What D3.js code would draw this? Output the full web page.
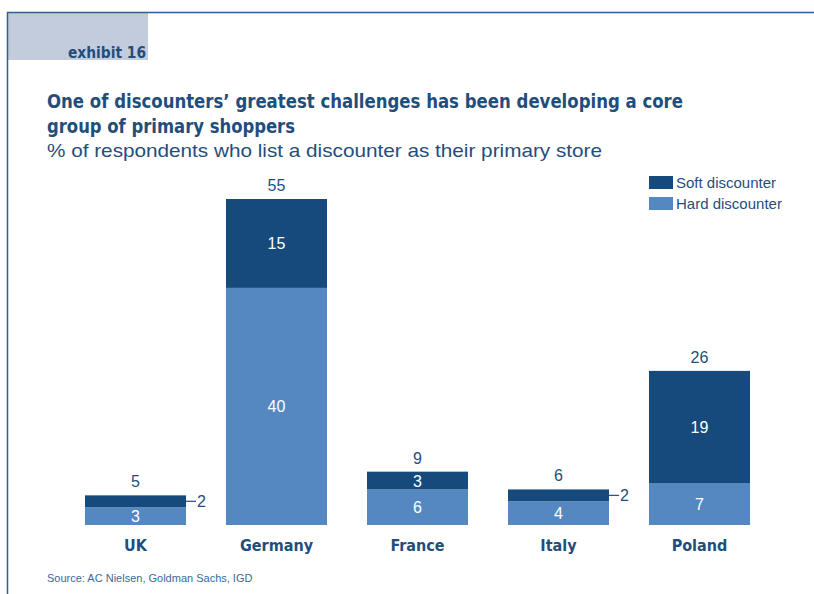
<!DOCTYPE html>
<html><head><meta charset="utf-8">
<script src="https://cdn.jsdelivr.net/npm/d3@7"></script>
<style>body{margin:0;background:#fff}svg{display:block}</style>
</head><body>
<svg id="c" width="814" height="594"></svg>
<script>
const categories = ["UK", "Germany", "France", "Italy", "Poland"];
const hardValues = [3, 40, 6, 4, 7];
const softValues = [2, 15, 3, 2, 19];
const totals = [5, 55, 9, 6, 26];
const seriesNames = ["Soft discounter", "Hard discounter"];

const dark = "#174a7c", light = "#5588c0", txt = "#1f4e7d";
const svg = d3.select("#c");

// frame
svg.append("rect").attr("x", 8).attr("y", 13).attr("width", 140).attr("height", 47).attr("fill", "#c3ccdc");
svg.append("line").attr("x1", 7).attr("x2", 814).attr("y1", 12.5).attr("y2", 12.5).attr("stroke", "#2f5f90").attr("stroke-width", 1.5);
svg.append("line").attr("x1", 7.5).attr("x2", 7.5).attr("y1", 12).attr("y2", 594).attr("stroke", "#2f5f90").attr("stroke-width", 1.5);

const tfont = "DejaVu Sans Condensed";
svg.append("text").attr("x", 68).attr("y", 58).attr("fill", txt)
  .attr("font-family", tfont).attr("font-weight", "bold").attr("font-size", 15)
  .attr("textLength", 78).attr("lengthAdjust", "spacingAndGlyphs").text("exhibit 16");

svg.append("text").attr("x", 47).attr("y", 108).attr("fill", txt).attr("font-family", tfont).attr("font-weight", "bold").attr("font-size", 19)
  .attr("textLength", 636).attr("lengthAdjust", "spacingAndGlyphs")
  .text("One of discounters\u2019 greatest challenges has been developing a core");
svg.append("text").attr("x", 47).attr("y", 133).attr("fill", txt).attr("font-family", tfont).attr("font-weight", "bold").attr("font-size", 19)
  .attr("textLength", 248).attr("lengthAdjust", "spacingAndGlyphs")
  .text("group of primary shoppers");
svg.append("text").attr("x", 47).attr("y", 157).attr("fill", txt).attr("font-family", "Liberation Sans").attr("font-size", 18.5)
  .attr("textLength", 555).attr("lengthAdjust", "spacingAndGlyphs")
  .text("% of respondents who list a discounter as their primary store");

const xb = d3.scaleBand().domain(categories).range([65, 770]).paddingInner(40/141).paddingOuter(20/141);
const y = d3.scaleLinear().domain([0, 55]).range([525, 199]);

const g = svg.append("g");
categories.forEach((c, i) => {
  const x0 = xb(c), w = xb.bandwidth();
  const h = hardValues[i], s = softValues[i];
  g.append("rect").attr("x", x0).attr("width", w).attr("y", y(h)).attr("height", y(0) - y(h)).attr("fill", light);
  g.append("rect").attr("x", x0).attr("width", w).attr("y", y(h + s)).attr("height", y(h) - y(h + s)).attr("fill", dark);
  const cx = x0 + w / 2;
  g.append("text").attr("x", cx).attr("y", (y(0) + y(h)) / 2 + 6).attr("text-anchor", "middle").attr("fill", "#fff")
    .attr("font-family", "Liberation Sans").attr("font-size", 16).text(h);
  if (s >= 3) {
    g.append("text").attr("x", cx).attr("y", (y(h) + y(h + s)) / 2 + 6).attr("text-anchor", "middle").attr("fill", "#fff")
      .attr("font-family", "Liberation Sans").attr("font-size", 16).text(s);
  } else {
    const my = (y(h) + y(h + s)) / 2;
    g.append("line").attr("x1", x0 + w).attr("x2", x0 + w + 10).attr("y1", my).attr("y2", my).attr("stroke", txt).attr("stroke-width", 1.2);
    g.append("text").attr("x", x0 + w + 11).attr("y", my + 6).attr("fill", txt)
      .attr("font-family", "Liberation Sans").attr("font-size", 16).text(s);
  }
  g.append("text").attr("x", cx).attr("y", y(totals[i]) - 8).attr("text-anchor", "middle").attr("fill", txt)
    .attr("font-family", "Liberation Sans").attr("font-size", 16).text(totals[i]);
  g.append("text").attr("x", cx).attr("y", 551).attr("text-anchor", "middle").attr("fill", txt)
    .attr("font-family", tfont).attr("font-weight", "bold").attr("font-size", 16).text(c);
});

// legend
const lc = [dark, light];
seriesNames.forEach((n, i) => {
  svg.append("rect").attr("x", 649).attr("y", 176 + i * 21).attr("width", 24).attr("height", 13).attr("fill", lc[i]);
  svg.append("text").attr("x", 676).attr("y", 188 + i * 21).attr("fill", txt).attr("font-family", "Liberation Sans").attr("font-size", 15).text(n);
});

svg.append("text").attr("x", 47).attr("y", 582).attr("fill", "#3a6a9a").attr("font-family", "Liberation Sans").attr("font-size", 11).text("Source: AC Nielsen, Goldman Sachs, IGD");
</script>
</body></html>
